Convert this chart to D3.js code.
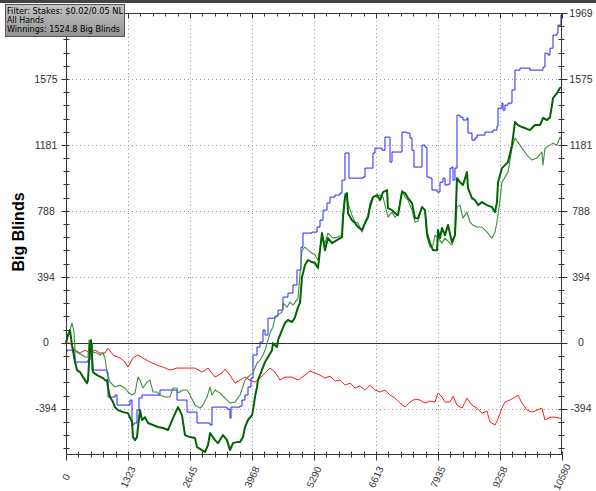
<!DOCTYPE html>
<html><head><meta charset="utf-8">
<script src="https://cdn.jsdelivr.net/npm/d3@7"></script>
<style>html,body{margin:0;padding:0;background:#fff;}svg{display:block;}</style>
</head><body>
<svg id="chart" width="596" height="491"></svg>
<script>
// ---------- data ----------
const legendLines = ["Filter: Stakes: $0.02/0.05 NL", "All Hands", "Winnings: 1524.8 Big Blinds"];
const yTitle = "Big Blinds";
const xTickValues = [0, 1322.5, 2645, 3967.5, 5290, 6612.5, 7935, 9257.5, 10580];
const xTickLabels = ["0", "1323", "2645", "3968", "5290", "6613", "7935", "9258", "10580"];
const yTickValues = [-393.8, 0, 393.8, 787.6, 1181.4, 1575.2, 1969];
const yTickLabels = ["-394", "0", "394", "788", "1181", "1575", "1969"];
const xDomain = [0, 10580];
const yDomain = [-664, 1969];

// [hands, big blinds]
const netWon = [[0,0],[43,46],[85,76],[128,-14],[192,-115],[235,-163],[299,-175],[363,-205],[448,-241],[469,-223],[512,-14],[533,16],[576,-175],[661,-193],[789,-211],[832,-223],[875,-223],[896,-270],[939,-324],[1003,-354],[1045,-384],[1109,-402],[1216,-414],[1322,-420],[1408,-473],[1429,-563],[1472,-581],[1514,-563],[1536,-503],[1578,-402],[1621,-461],[1685,-444],[1749,-479],[1856,-491],[1962,-503],[2069,-509],[2176,-521],[2282,-450],[2389,-384],[2474,-432],[2538,-551],[2645,-563],[2752,-569],[2794,-623],[2901,-641],[2965,-652],[3029,-611],[3072,-539],[3178,-581],[3242,-599],[3349,-551],[3434,-581],[3498,-641],[3562,-599],[3648,-593],[3712,-593],[3776,-563],[3818,-503],[3882,-461],[3968,-432],[3989,-402],[4031,-324],[4074,-264],[4095,-223],[4138,-193],[4202,-145],[4245,-115],[4309,-85],[4394,-44],[4415,-2],[4501,-26],[4522,16],[4607,76],[4671,118],[4735,136],[4821,124],[4885,153],[4949,213],[4991,237],[5034,392],[5098,464],[5162,494],[5247,482],[5311,476],[5375,446],[5460,655],[5524,553],[5588,625],[5674,595],[5780,613],[5887,631],[5908,750],[5951,870],[5994,894],[6015,774],[6100,732],[6164,715],[6228,691],[6314,673],[6378,715],[6442,750],[6484,810],[6548,870],[6634,882],[6698,852],[6762,900],[6847,912],[6868,804],[6954,792],[7018,774],[7082,762],[7167,900],[7231,894],[7295,864],[7380,834],[7444,744],[7508,744],[7594,810],[7658,792],[7700,655],[7764,595],[7828,553],[7914,553],[7935,673],[7977,625],[8020,685],[8084,643],[8148,703],[8233,601],[8297,643],[8340,983],[8404,959],[8468,942],[8553,1019],[8575,924],[8660,864],[8724,852],[8788,822],[8873,840],[8980,822],[9087,810],[9151,780],[9193,840],[9215,959],[9300,1043],[9364,1061],[9428,1079],[9513,1180],[9577,1318],[9641,1300],[9727,1288],[9791,1282],[9897,1270],[10004,1300],[10110,1300],[10175,1342],[10260,1330],[10324,1347],[10367,1419],[10388,1461],[10473,1491],[10537,1521],[10580,1524.8]];

const allInEV = [[0,0],[43,46],[85,76],[128,118],[171,64],[192,-44],[256,-61],[341,-73],[405,-85],[469,-85],[491,16],[555,-2],[576,-56],[661,-61],[725,-73],[789,-61],[832,-91],[875,-181],[939,-235],[1045,-264],[1152,-253],[1258,-270],[1322,-294],[1408,-312],[1472,-300],[1536,-205],[1578,-223],[1642,-270],[1728,-235],[1792,-223],[1856,-294],[1941,-294],[2005,-312],[2112,-324],[2218,-324],[2282,-270],[2368,-270],[2389,-300],[2496,-282],[2581,-282],[2645,-312],[2752,-372],[2858,-390],[2922,-372],[3008,-324],[3072,-264],[3114,-312],[3178,-282],[3285,-300],[3392,-330],[3498,-360],[3605,-354],[3712,-312],[3818,-223],[3925,-193],[3989,-181],[4074,-121],[4138,-103],[4202,-73],[4245,-44],[4309,16],[4351,58],[4415,94],[4458,147],[4522,165],[4607,183],[4629,237],[4714,213],[4778,243],[4842,225],[4949,267],[5034,553],[5098,571],[5162,553],[5247,535],[5311,524],[5375,494],[5460,631],[5524,595],[5588,655],[5695,625],[5802,631],[5887,643],[5951,894],[6015,834],[6100,762],[6164,721],[6228,715],[6314,661],[6378,721],[6442,762],[6484,834],[6548,870],[6698,882],[6762,870],[6868,750],[6954,780],[7018,750],[7082,768],[7167,912],[7231,870],[7295,852],[7380,792],[7444,721],[7508,726],[7594,810],[7658,792],[7700,631],[7764,571],[7828,583],[7871,643],[7935,625],[8020,595],[8084,625],[8148,607],[8233,583],[8297,643],[8340,810],[8404,822],[8468,744],[8553,780],[8617,721],[8681,703],[8767,691],[8873,691],[8980,661],[9087,625],[9151,661],[9193,721],[9257,852],[9300,959],[9364,989],[9428,1019],[9471,1091],[9513,1162],[9577,1222],[9641,1198],[9727,1162],[9833,1121],[9940,1091],[10047,1103],[10153,1139],[10175,1061],[10217,1162],[10324,1180],[10388,1192],[10473,1180],[10537,1228],[10580,1210]];

const showdown = [[0,-56],[21,-44],[128,-44],[192,-115],[363,-115],[469,-103],[512,-61],[555,-163],[832,-163],[875,-175],[896,-324],[1003,-324],[1045,-312],[1088,-372],[1322,-372],[1365,-342],[1408,-491],[1450,-479],[1514,-402],[1557,-330],[1621,-312],[1898,-312],[2005,-282],[2325,-282],[2368,-342],[2538,-342],[2581,-414],[2794,-479],[3072,-491],[3114,-384],[3434,-396],[3498,-450],[3520,-384],[3712,-378],[3754,-342],[3818,-312],[3882,-264],[3946,-211],[3989,-73],[4074,-26],[4138,4],[4202,76],[4245,46],[4309,147],[4458,159],[4522,195],[4629,273],[4735,297],[4842,345],[4927,434],[5013,571],[5055,655],[5247,661],[5354,691],[5418,732],[5482,792],[5567,834],[5631,870],[5738,882],[5844,894],[5887,971],[5951,1133],[6015,1133],[6036,983],[6271,983],[6335,989],[6378,1043],[6484,1043],[6548,1133],[6591,1162],[6740,1150],[6804,1228],[6868,1228],[6911,1079],[6954,1139],[7082,1139],[7167,1258],[7274,1252],[7338,1222],[7380,1150],[7423,1049],[7551,1049],[7594,1180],[7658,1168],[7700,989],[7764,983],[7807,912],[7914,900],[7977,959],[8041,983],[8084,942],[8148,947],[8191,1043],[8233,1049],[8255,971],[8297,1043],[8340,1359],[8404,1347],[8468,1330],[8553,1342],[8575,1252],[8660,1210],[8724,1222],[8767,1240],[8937,1258],[9108,1270],[9193,1294],[9215,1401],[9300,1431],[9321,1389],[9364,1419],[9428,1431],[9513,1509],[9577,1628],[9684,1640],[9897,1628],[10068,1628],[10175,1646],[10217,1729],[10281,1718],[10324,1759],[10388,1837],[10473,1849],[10494,1897],[10558,1957],[10580,1969]];

const nonShowdown = [[0,0],[85,-2],[192,-44],[299,-61],[405,-44],[512,-61],[619,-44],[725,-61],[832,-61],[896,-32],[1003,-73],[1152,-91],[1258,-115],[1322,-145],[1429,-91],[1536,-73],[1642,-91],[1792,-115],[1941,-133],[2069,-145],[2218,-163],[2368,-151],[2496,-151],[2645,-151],[2752,-151],[2901,-175],[3029,-151],[3178,-205],[3328,-181],[3392,-157],[3498,-193],[3605,-241],[3712,-223],[3818,-205],[3925,-223],[4031,-235],[4138,-211],[4245,-181],[4351,-151],[4458,-175],[4565,-223],[4671,-205],[4821,-205],[4949,-223],[5098,-193],[5205,-169],[5311,-181],[5418,-193],[5524,-211],[5631,-199],[5738,-229],[5844,-223],[5951,-253],[6058,-241],[6164,-270],[6271,-258],[6378,-282],[6484,-253],[6591,-282],[6698,-294],[6804,-282],[6911,-312],[7018,-330],[7124,-360],[7231,-384],[7338,-354],[7444,-336],[7551,-342],[7658,-360],[7764,-348],[7871,-354],[7935,-300],[8020,-324],[8084,-354],[8191,-354],[8255,-318],[8340,-372],[8447,-390],[8553,-330],[8660,-372],[8767,-390],[8873,-420],[8980,-408],[9044,-473],[9151,-491],[9215,-455],[9300,-390],[9364,-354],[9471,-342],[9577,-324],[9641,-312],[9727,-360],[9833,-402],[9940,-414],[10047,-402],[10153,-390],[10217,-461],[10324,-444],[10430,-444],[10537,-450],[10580,-450]];

// ---------- drawing ----------
const svg = d3.select("#chart");
const x = d3.scaleLinear().domain(xDomain).range([66, 562]);
const y = d3.scaleLinear().domain(yDomain).range([454, 13]);
const axisColor = "#333";
const labelColor = "#333";

svg.append("rect").attr("x",0).attr("y",0).attr("width",596).attr("height",491).attr("fill","#fff");
svg.append("rect").attr("x",0).attr("y",0).attr("width",596).attr("height",3).attr("fill","#444");

const xStep = xTickValues[1] - xTickValues[0];
const yStep = yTickValues[2] - yTickValues[1];
const xMinor = d3.range(0, 41).map(i => i * xStep / 5);
const yMinor = d3.range(-8, 26).map(i => i * yStep / 5).filter(v => v >= yDomain[0]);

// grid (dotted)
const grid = svg.append("g").attr("stroke", "#9a9a9a").attr("stroke-dasharray", "1,3").attr("stroke-width", 1);
xTickValues.slice(1, -1).forEach(v => {
  grid.append("line").attr("x1", Math.round(x(v)) + 0.5).attr("x2", Math.round(x(v)) + 0.5)
    .attr("y1", y(yDomain[1])).attr("y2", y(yDomain[0]));
});
yTickValues.filter(v => v !== 0 && v !== yDomain[1]).forEach(v => {
  grid.append("line").attr("y1", Math.round(y(v)) + 0.5).attr("y2", Math.round(y(v)) + 0.5)
    .attr("x1", x(0) + 6).attr("x2", x(xDomain[1]) - 3);
});

// zero line
svg.append("line").attr("x1", x(0)).attr("x2", x(xDomain[1]))
  .attr("y1", Math.round(y(0)) + 0.5).attr("y2", Math.round(y(0)) + 0.5)
  .attr("stroke", axisColor).attr("stroke-width", 1);

// series
const line = d3.line().x(d => x(d[0])).y(d => y(d[1]));
const stepLine = d3.line().x(d => x(d[0])).y(d => y(d[1])).curve(d3.curveStepAfter);
const g = svg.append("g").attr("fill", "none").attr("stroke-linejoin", "round");
g.append("path").datum(nonShowdown).attr("d", line).attr("stroke", "#ff1a1a").attr("stroke-width", 1);
g.append("path").datum(showdown).attr("d", stepLine).attr("stroke", "#2424ff").attr("stroke-width", 1);
g.append("path").datum(allInEV).attr("d", line).attr("stroke", "#3d8f3d").attr("stroke-width", 1.1);
g.append("path").datum(netWon).attr("d", line).attr("stroke", "#006400").attr("stroke-width", 2);

// axes lines
const ax = svg.append("g").attr("stroke", axisColor).attr("stroke-width", 1);
const L = Math.round(x(0)) + 0.5, R = Math.round(x(xDomain[1])) - 0.5;
const T = Math.round(y(yDomain[1])) + 0.5, B = Math.round(y(yDomain[0])) + 0.5;
ax.append("line").attr("x1", L).attr("x2", L).attr("y1", T).attr("y2", B);
ax.append("line").attr("x1", R).attr("x2", R).attr("y1", T).attr("y2", B);
ax.append("line").attr("x1", L).attr("x2", R).attr("y1", B).attr("y2", B);
ax.append("line").attr("x1", L).attr("x2", R).attr("y1", T).attr("y2", T);

// y ticks
yMinor.forEach(v => {
  const yy = Math.round(y(v)) + 0.5;
  const major = yTickValues.some(t => Math.abs(t - v) < 1);
  ax.append("line").attr("x1", major ? L - 5 : L - 3).attr("x2", L + 3).attr("y1", yy).attr("y2", yy);
  ax.append("line").attr("x1", R - 3).attr("x2", major ? R + 6 : R + 3).attr("y1", yy).attr("y2", yy);
});
// x ticks
xMinor.forEach(v => {
  const xx = Math.round(x(v)) + 0.5;
  const major = xTickValues.some(t => Math.abs(t - v) < 1);
  ax.append("line").attr("x1", xx).attr("x2", xx).attr("y1", B - 3).attr("y2", major ? B + 6 : B + 3);
  ax.append("line").attr("x1", xx).attr("x2", xx).attr("y1", T).attr("y2", major ? T + 5 : T + 3);
});

// tick labels (the left-hand top label sits under the info box in the reference, so it is not drawn)
const font = "'Liberation Sans', Arial, sans-serif";
yTickValues.forEach((v, i) => {
  if (v !== yDomain[1]) {
    svg.append("text").attr("x", 46).attr("y", y(v)).attr("dy", "0.35em")
      .attr("text-anchor", "middle").attr("font-family", font).attr("font-size", 10.5)
      .attr("fill", labelColor).text(yTickLabels[i]);
  }
  svg.append("text").attr("x", 581).attr("y", y(v)).attr("dy", "0.35em")
    .attr("text-anchor", "middle").attr("font-family", font).attr("font-size", 10.5)
    .attr("fill", labelColor).text(yTickLabels[i]);
});
xTickValues.forEach((v, i) => {
  const cx = x(v), cy = 477;
  svg.append("text").attr("x", cx).attr("y", cy).attr("dy", "0.35em")
    .attr("text-anchor", "middle").attr("font-family", font).attr("font-size", 10)
    .attr("fill", labelColor).attr("transform", `rotate(-65 ${cx} ${cy})`).text(xTickLabels[i]);
});

// y title
svg.append("text").attr("transform", "translate(24,232) rotate(-90)")
  .attr("text-anchor", "middle").attr("font-family", font).attr("font-weight", "bold")
  .attr("font-size", 16).attr("fill", "#000").text(yTitle);

// info box
const defs = svg.append("defs");
const grad = defs.append("linearGradient").attr("id", "boxg").attr("x1", 0).attr("y1", 0).attr("x2", 0).attr("y2", 1);
grad.append("stop").attr("offset", "0%").attr("stop-color", "#c4c4c4");
grad.append("stop").attr("offset", "100%").attr("stop-color", "#939393");
svg.append("rect").attr("x", 5.5).attr("y", 4.5).attr("width", 119).attr("height", 32)
  .attr("fill", "url(#boxg)").attr("stroke", "#555").attr("stroke-width", 1);
const widths = [116, 37, 113];
legendLines.forEach((t, i) => {
  svg.append("text").attr("x", 7).attr("y", 14 + i * 9.2)
    .attr("font-family", "'DejaVu Sans', Verdana, sans-serif").attr("font-size", 8.5)
    .attr("fill", "#000").attr("textLength", widths[i]).attr("lengthAdjust", "spacingAndGlyphs").text(t);
});
</script>
</body></html>
